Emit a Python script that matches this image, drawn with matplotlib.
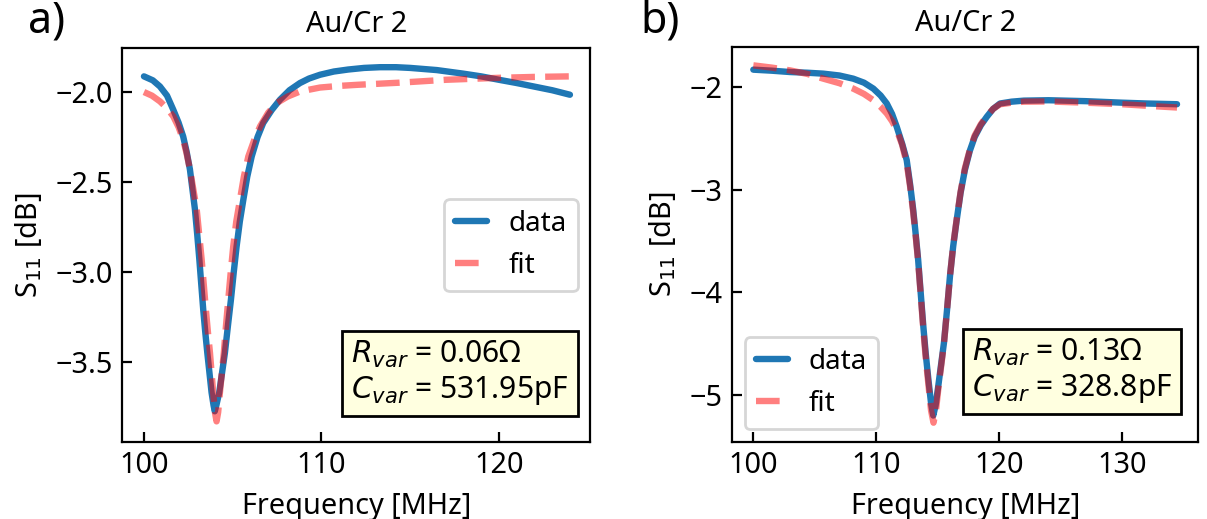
import matplotlib
matplotlib.use("Agg")
import matplotlib.pyplot as plt

plt.rcParams['font.family'] = ['Noto Sans', 'DejaVu Sans']
plt.rcParams['mathtext.fontset'] = 'dejavusans'
FS = 10.4
plt.rcParams['font.size'] = FS

# ---- Panel a data ----
freq_a_data = [100.0, 100.5, 100.9, 101.3, 101.65, 101.95, 102.21, 102.4, 102.59, 102.73,
               102.87, 103.0, 103.12, 103.23, 103.34, 103.45, 103.57, 103.69, 103.81, 103.92,
               103.99, 104.08, 104.24, 104.4, 104.56, 104.73, 104.9, 105.06, 105.22, 105.4,
               105.6, 105.82, 106.07, 106.4, 106.72, 107.2, 107.66, 108.2, 108.79, 109.3,
               109.92, 110.7, 111.5, 112.4, 113.3, 114.2, 115.0, 116.5, 118.0, 119.0,
               120.0, 121.0, 122.0, 123.0, 124.0]
s11_a_data = [-1.913, -1.935, -1.969, -2.02, -2.098, -2.17, -2.247, -2.33, -2.43, -2.54,
              -2.65, -2.79, -2.93, -3.07, -3.21, -3.33, -3.45, -3.56, -3.67, -3.74,
              -3.774, -3.74, -3.67, -3.56, -3.45, -3.30, -3.154, -3.0, -2.858, -2.72,
              -2.598, -2.47, -2.358, -2.25, -2.172, -2.10, -2.043, -1.99, -1.95, -1.925,
              -1.904, -1.886, -1.875, -1.866, -1.862, -1.862, -1.866, -1.878, -1.898, -1.913,
              -1.932, -1.95, -1.97, -1.99, -2.015]

freq_a_fit = [100.0, 100.45, 100.9, 101.3, 101.65, 101.95, 102.21, 102.4, 102.59, 102.78,
              102.97, 103.11, 103.25, 103.37, 103.49, 103.6, 103.72, 103.81, 103.9, 104.0,
              104.09, 104.18, 104.28, 104.39, 104.5, 104.62, 104.75, 104.89, 105.03, 105.2,
              105.41, 105.63, 105.88, 106.2, 106.54, 107.0, 107.48, 108.1, 108.79, 109.92,
              111.0, 112.0, 114.4, 117.0, 120.0, 122.0, 124.0]
s11_a_fit = [-2.0, -2.02, -2.052, -2.09, -2.135, -2.195, -2.265, -2.34, -2.43, -2.54,
             -2.65, -2.79, -2.93, -3.07, -3.21, -3.33, -3.45, -3.56, -3.67, -3.78,
             -3.83, -3.78, -3.67, -3.56, -3.45, -3.30, -3.154, -3.0, -2.858, -2.72,
             -2.598, -2.47, -2.358, -2.27, -2.191, -2.115, -2.061, -2.025, -1.997, -1.975,
             -1.966, -1.96, -1.948, -1.932, -1.921, -1.916, -1.913]

# ---- Panel b data ----
freq_b_data = [100.0, 101.5, 102.98, 104.4, 105.7, 107.0, 108.13, 109.0, 109.76, 110.35,
               110.85, 111.28, 111.66, 112.1, 112.47, 112.75, 113.0, 113.2, 113.4, 113.6,
               113.82, 114.02, 114.23, 114.45, 114.63, 114.82, 115.04, 115.27, 115.5, 115.75,
               115.99, 116.25, 116.54, 116.85, 117.2, 117.6, 118.0, 118.5, 118.98, 119.5,
               120.06, 121.0, 122.0, 124.0, 127.0, 130.0, 132.0, 134.45]
s11_b_data = [-1.828, -1.838, -1.851, -1.858, -1.867, -1.885, -1.916, -1.955, -2.013, -2.08,
              -2.158, -2.26, -2.385, -2.55, -2.709, -2.95, -3.194, -3.43, -3.68, -3.99,
              -4.327, -4.6, -4.845, -5.08, -5.2, -5.1, -4.91, -4.7, -4.49, -4.17,
              -3.84, -3.55, -3.29, -3.03, -2.806, -2.62, -2.483, -2.37, -2.288, -2.21,
              -2.158, -2.14, -2.13, -2.126, -2.135, -2.15, -2.158, -2.165]

freq_b_fit = [100.0, 101.5, 102.98, 104.4, 105.7, 107.0, 108.13, 109.0, 109.76, 110.35,
              110.85, 111.28, 111.66, 112.1, 112.47, 112.75, 113.0, 113.2, 113.4, 113.6,
              113.82, 114.02, 114.23, 114.45, 114.65, 114.85, 115.04, 115.27, 115.5, 115.75,
              115.99, 116.25, 116.54, 116.85, 117.2, 117.6, 118.0, 118.5, 118.98, 119.5,
              120.06, 121.0, 122.0, 124.0, 127.0, 130.0, 132.0, 134.45]
s11_b_fit = [-1.786, -1.808, -1.835, -1.87, -1.916, -1.96, -2.013, -2.065, -2.126, -2.19,
             -2.255, -2.33, -2.417, -2.56, -2.74, -2.97, -3.22, -3.45, -3.70, -4.01,
             -4.36, -4.64, -4.89, -5.15, -5.27, -5.15, -4.94, -4.72, -4.50, -4.17,
             -3.84, -3.54, -3.28, -3.02, -2.79, -2.61, -2.47, -2.36, -2.28, -2.21,
             -2.165, -2.15, -2.14, -2.138, -2.15, -2.165, -2.18, -2.197]

titles = ["Au/Cr 2", "Au/Cr 2"]
panel_labels = ["a)", "b)"]
box_texts = ["$R_{var}$ = 0.06Ω\n$C_{var}$ = 531.95pF",
             "$R_{var}$ = 0.13Ω\n$C_{var}$ = 328.8pF"]

W, H = 1207, 519
fig = plt.figure(figsize=(W / 200, H / 200), dpi=200)

def px_axes(l, r, t, b):
    return fig.add_axes([l / W, 1 - b / H, (r - l) / W, (b - t) / H])

ax_a = px_axes(122.3, 590, 48.3, 441.7)
ax_b = px_axes(732.3, 1198.3, 47.3, 441.7)

for ax, fd, sd, ff, sf in [(ax_a, freq_a_data, s11_a_data, freq_a_fit, s11_a_fit),
                           (ax_b, freq_b_data, s11_b_data, freq_b_fit, s11_b_fit)]:
    ax.plot(fd, sd, color='#1f77b4', lw=2.3, label='data', solid_capstyle='round',
            solid_joinstyle='round')
    ax.plot(ff, sf, color='red', alpha=0.5, lw=2.3, ls='--', label='fit')
    ax.tick_params(direction='in', labelsize=FS)
    ax.set_xlabel('Frequency [MHz]', fontsize=FS)
    ax.set_ylabel('S$_{11}$ [dB]', fontsize=FS)

ax_a.set_xlim(98.78, 125.13)
ax_a.set_ylim(-3.943, -1.757)
ax_a.set_xticks([100, 110, 120])
ax_a.set_yticks([-3.5, -3.0, -2.5, -2.0])
ax_b.set_xlim(98.29, 136.18)
ax_b.set_ylim(-5.455, -1.61)
ax_b.set_xticks([100, 110, 120, 130])
ax_b.set_yticks([-5, -4, -3, -2])

LFS = 10.0
ax_a.legend(loc='center right', fontsize=LFS, handlelength=1.15, handletextpad=0.75,
            borderaxespad=0.45)
ax_b.legend(loc='lower left', fontsize=LFS, handlelength=1.15, handletextpad=0.75,
            borderaxespad=0.45)

ax_a.set_title(titles[0], fontsize=FS)
ax_b.set_title(titles[1], fontsize=FS)

BFS = 10.8
bbox = dict(boxstyle='square,pad=0.3', facecolor='#ffffe0', edgecolor='black', lw=1)
ax_a.text(0.955, 0.087, box_texts[0], transform=ax_a.transAxes, ha='right', va='bottom',
          multialignment='left', fontsize=BFS, bbox=bbox)
ax_b.text(0.944, 0.092, box_texts[1], transform=ax_b.transAxes, ha='right', va='bottom',
          multialignment='left', fontsize=BFS, bbox=bbox)

fig.text(47 / W, 1 - 21 / H, panel_labels[0], fontsize=15.5, ha='center', va='center')
fig.text(660 / W, 1 - 21 / H, panel_labels[1], fontsize=15.5, ha='center', va='center')

fig.savefig('out.png', dpi=200)
